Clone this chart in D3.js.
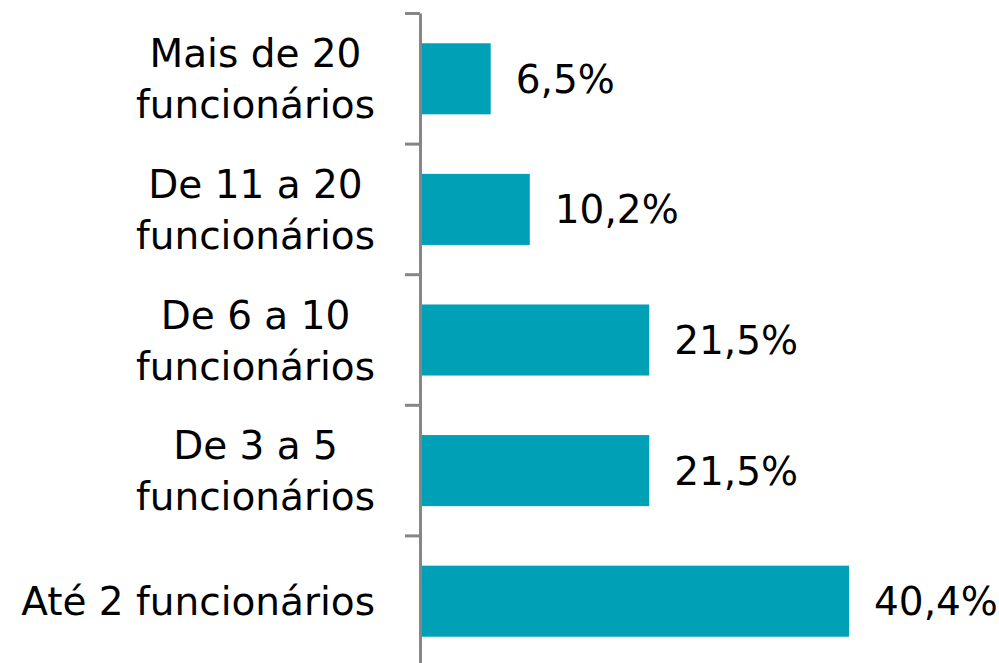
<!DOCTYPE html>
<html><head><meta charset="utf-8">
<script src="https://cdn.jsdelivr.net/npm/d3@7"></script>
<style>body{margin:0;background:#fff}svg{display:block}</style>
</head><body>
<svg id="c" width="999" height="663"></svg>
<script>
const categories = [["Mais de 20","funcionários"],["De 11 a 20","funcionários"],["De 6 a 10","funcionários"],["De 3 a 5","funcionários"],["Até 2 funcionários"]];
const values = [6.5, 10.2, 21.5, 21.5, 40.4];
const valueLabels = ["6,5%","10,2%","21,5%","21,5%","40,4%"];

const svg = d3.select("#c");
const font = "'DejaVu Sans', sans-serif";
const fs = 39;
const x = d3.scaleLinear().domain([0, 50]).range([422, 422 + 427/40.4*50]);
const y = d3.scaleBand().domain(d3.range(categories.length)).range([13.5, 666.5]).paddingInner(0.456).paddingOuter(0.228);

// bars
svg.selectAll("rect.bar").data(values).join("rect")
  .attr("x", x(0)).attr("y", (d,i)=>y(i)).attr("width", d=>x(d)-x(0)).attr("height", y.bandwidth())
  .attr("fill", "#00A0B6");

// axis
const band = d3.scaleBand().domain(d3.range(categories.length)).range([13.5, 666.5]);
svg.append("line").attr("x1",420.5).attr("x2",420.5).attr("y1",13.5).attr("y2",663).attr("stroke","#868686").attr("stroke-width",3);
const tickYs = d3.range(categories.length).map(i=>band(i));
svg.selectAll("line.tick").data(tickYs).join("line")
  .attr("x1",405).attr("x2",420).attr("y1",d=>d).attr("y2",d=>d).attr("stroke","#868686").attr("stroke-width",3);

// value labels
svg.selectAll("text.val").data(values).join("text")
  .attr("x", d=>x(d)+25).attr("y", (d,i)=>y(i)+y.bandwidth()/2)
  .attr("dy","0.36em").attr("font-family",font).attr("font-size",fs).attr("fill","#000")
  .text((d,i)=>valueLabels[i]);

// category labels (one text element per category, lines as tspans)
const rightEdge = 375, lh = 51;
categories.forEach((lines,i)=>{
  const cyc = y(i)+y.bandwidth()/2;
  const t = svg.append("text").attr("font-family",font).attr("font-size",fs).attr("fill","#000")
     .attr("text-anchor","middle");
  const ts = lines.map((l,j)=>t.append("tspan")
     .attr("y", cyc + (j-(lines.length-1)/2)*lh).attr("dy","0.36em").text(l));
  const maxW = d3.max(ts, s=>s.node().getComputedTextLength());
  ts.forEach(s=>s.attr("x", rightEdge - maxW/2));
});
</script>
</body></html>
